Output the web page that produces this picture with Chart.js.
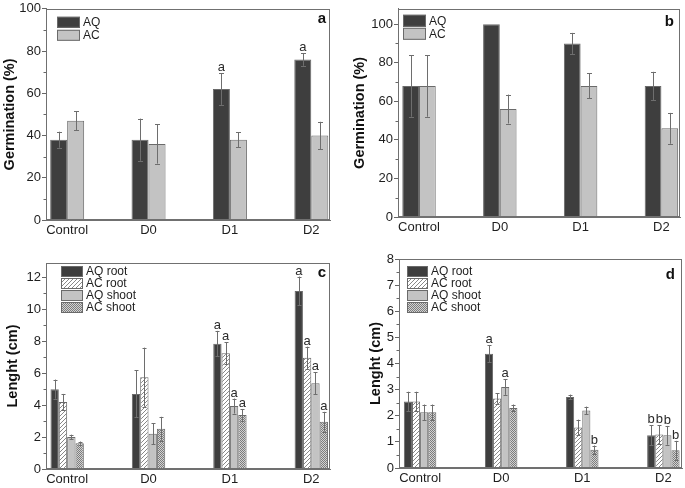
<!DOCTYPE html>
<html>
<head>
<meta charset="utf-8">
<script src="https://cdn.jsdelivr.net/npm/chart.js@4.4.1/dist/chart.umd.min.js"></script>
<style>
  html, body { margin: 0; padding: 0; background: #fff; }
  #fig { position: relative; width: 685px; height: 488px; overflow: hidden; }
  #fig canvas { position: absolute; }
</style>
</head>
<body>
<div id="fig">
  <canvas id="panelA" width="342" height="240" style="left:0px;top:0px"></canvas>
  <canvas id="panelB" width="343" height="240" style="left:342px;top:0px"></canvas>
  <canvas id="panelC" width="342" height="248" style="left:0px;top:240px"></canvas>
  <canvas id="panelD" width="343" height="248" style="left:342px;top:240px"></canvas>
</div>
<script>
const categories = ['Control', 'D0', 'D1', 'D2'];

// a - germination (%)
const germA_AQ = [38, 38, 62, 76];
const germA_AC = [47, 36, 38, 40];
const germA_AQ_err = [3.8, 10, 7.5, 3];
const germA_AC_err = [4.5, 9.3, 3.5, 6.5];
const germA_AQ_sig = ['', '', 'a', 'a'];
const germA_AC_sig = ['', '', '', ''];

// b - germination (%)
const germB_AQ = [68, 100, 90, 68];
const germB_AC = [68, 56, 68, 46];
const germB_AQ_err = [16, 0, 5.5, 7.3];
const germB_AC_err = [16, 7.5, 6.5, 8];

// c - length (cm)
const lenC_AQroot = [5.0, 4.7, 7.85, 11.15];
const lenC_ACroot = [4.2, 5.75, 7.25, 6.96];
const lenC_AQshoot = [2.0, 2.2, 3.94, 5.37];
const lenC_ACshoot = [1.62, 2.52, 3.38, 2.96];
const lenC_AQroot_err = [0.6, 1.47, 0.8, 0.9];
const lenC_ACroot_err = [0.5, 1.85, 0.7, 0.7];
const lenC_AQshoot_err = [0.15, 0.65, 0.47, 0.7];
const lenC_ACshoot_err = [0.1, 0.75, 0.38, 0.62];
const lenC_sig = ['', '', 'a', 'a'];

// d - length (cm)
const lenD_AQroot = [2.55, 4.37, 2.72, 1.25];
const lenD_ACroot = [2.55, 2.66, 1.55, 1.28];
const lenD_AQshoot = [2.13, 3.1, 2.2, 1.25];
const lenD_ACshoot = [2.13, 2.3, 0.7, 0.68];
const lenD_AQroot_err = [0.37, 0.32, 0.09, 0.38];
const lenD_ACroot_err = [0.37, 0.2, 0.3, 0.36];
const lenD_AQshoot_err = [0.3, 0.3, 0.15, 0.36];
const lenD_ACshoot_err = [0.3, 0.13, 0.16, 0.36];
const lenD_AQroot_sig = ['', 'a', '', 'b'];
const lenD_ACroot_sig = ['', '', '', 'b'];
const lenD_AQshoot_sig = ['', 'a', '', 'b'];
const lenD_ACshoot_sig = ['', '', 'b', 'b'];

const germTicks = [0, 20, 40, 60, 80, 100];
const lenC_ticks = [0, 2, 4, 6, 8, 10, 12];
const lenD_ticks = [0, 1, 2, 3, 4, 5, 6, 7, 8];

const FONT = "'Liberation Sans', Arial, sans-serif";
const DARK = '#3e3e3e';
const LIGHT = '#c3c3c3';
const EDGE = '#6a6a6a';

// fill patterns for the AC bars in c and d
function hatchPattern() {
  const c = document.createElement('canvas');
  c.width = 4; c.height = 4;
  const g = c.getContext('2d');
  g.fillStyle = '#fff'; g.fillRect(0, 0, 4, 4);
  g.strokeStyle = '#7a7a7a'; g.lineWidth = 0.9;
  g.beginPath();
  g.moveTo(-1, 1); g.lineTo(1, -1);
  g.moveTo(0, 4); g.lineTo(4, 0);
  g.moveTo(3, 5); g.lineTo(5, 3);
  g.stroke();
  return g.createPattern(c, 'repeat');
}
function checkPattern() {
  const c = document.createElement('canvas');
  c.width = 2; c.height = 2;
  const g = c.getContext('2d');
  g.fillStyle = '#d2d2d2'; g.fillRect(0, 0, 2, 2);
  g.fillStyle = '#7c7c7c'; g.fillRect(0, 0, 1, 1); g.fillRect(1, 1, 1, 1);
  return g.createPattern(c, 'repeat');
}
const HATCH = hatchPattern();
const CHECK = checkPattern();

// frame, minor ticks, error bars, letters, legend and panel tag
const panelDecor = {
  id: 'panelDecor',
  afterDraw(chart, args, o) {
    const { ctx, chartArea: ca } = chart;
    const y = chart.scales.y;
    ctx.save();
    ctx.strokeStyle = '#707070';
    ctx.lineWidth = 1;
    ctx.strokeRect(Math.round(ca.left) + 0.5, Math.round(ca.top) + 0.5,
      Math.round(ca.width) - 1, Math.round(ca.height) - 1);

    // minor ticks
    ctx.strokeStyle = '#666';
    ctx.beginPath();
    for (let v = o.minor; v < y.max; v += o.minor * 2) {
      const py = Math.round(y.getPixelForValue(v)) + 0.5;
      ctx.moveTo(ca.left, py); ctx.lineTo(ca.left - 2.5, py);
    }
    ctx.stroke();

    // error bars + significance letters
    chart.data.datasets.forEach((ds, i) => {
      const meta = chart.getDatasetMeta(i);
      meta.data.forEach((bar, j) => {
        const v = ds.data[j].y;
        const e = o.errors[i][j];
        const xc = Math.round(bar.x) + 0.5;
        let top = bar.y;
        if (e > 0) {
          top = y.getPixelForValue(v + e);
          const bot = y.getPixelForValue(v - e);
          ctx.strokeStyle = '#6e6e6e';
          ctx.lineWidth = 1;
          ctx.beginPath();
          ctx.moveTo(xc, top); ctx.lineTo(xc, bot);
          ctx.moveTo(xc - o.cap, Math.round(top) + 0.5); ctx.lineTo(xc + o.cap, Math.round(top) + 0.5);
          ctx.moveTo(xc - o.cap, Math.round(bot) + 0.5); ctx.lineTo(xc + o.cap, Math.round(bot) + 0.5);
          ctx.stroke();
        }
        const s = o.marks[i][j];
        if (s) {
          ctx.fillStyle = '#2a2a2a';
          ctx.font = '13px ' + FONT;
          ctx.textAlign = 'center';
          ctx.textBaseline = 'alphabetic';
          ctx.fillText(s, bar.x, top - 2);
        }
      });
    });

    // legend inside the plot
    const L = o.legend;
    chart.data.datasets.forEach((ds, i) => {
      const lx = ca.left + L.x;
      const ly = ca.top + L.y + i * L.row;
      ctx.fillStyle = ds.backgroundColor;
      ctx.fillRect(lx, ly, L.w, L.h);
      ctx.strokeStyle = EDGE;
      ctx.lineWidth = 1;
      ctx.strokeRect(lx + 0.5, ly + 0.5, L.w - 1, L.h - 1);
      ctx.fillStyle = '#1e1e1e';
      ctx.font = '12px ' + FONT;
      ctx.textAlign = 'left';
      ctx.textBaseline = 'middle';
      ctx.fillText(ds.label, lx + L.w + 3, ly + L.h / 2 + 0.5);
    });

    // panel tag
    ctx.fillStyle = '#111';
    ctx.font = 'bold 15px ' + FONT;
    ctx.textAlign = 'right';
    ctx.textBaseline = 'middle';
    ctx.fillText(o.tag, ca.right - o.tagDx, ca.top + o.tagDy);
    ctx.restore();
  }
};

function drawPanel(id, p) {
  new Chart(document.getElementById(id), {
    type: 'bar',
    data: {
      datasets: p.series.map(s => ({
        label: s.label,
        data: s.values.map((v, i) => ({ x: i, y: v })),
        backgroundColor: s.fill,
        borderColor: EDGE,
        borderWidth: 1,
        barPercentage: 1,
        categoryPercentage: p.group
      }))
    },
    options: {
      responsive: false,
      animation: false,
      layout: { padding: { top: p.padTop, right: p.padRight, left: 0, bottom: 0 } },
      plugins: {
        legend: { display: false },
        tooltip: { enabled: false },
        panelDecor: {
          errors: p.series.map(s => s.err),
          marks: p.series.map(s => s.sig || ['', '', '', '']),
          minor: p.minor, cap: p.cap, legend: p.legend,
          tag: p.tag, tagDx: p.tagDx, tagDy: p.tagDy
        }
      },
      scales: {
        x: {
          type: 'linear',
          offset: false,
          min: -0.26, max: 3.23,
          afterFit(s) { s.height = p.xH; },
          afterBuildTicks(s) { s.ticks = categories.map((c, i) => ({ value: i })); },
          ticks: {
            callback: v => categories[v],
            font: { family: FONT, size: 13 }, color: '#1e1e1e', padding: 3,
            maxRotation: 0, autoSkip: false
          },
          grid: { display: false, drawTicks: false, offset: false },
          border: { color: '#707070' }
        },
        y: {
          min: 0, max: p.yMax,
          afterFit(s) { s.width = p.yW; },
          afterBuildTicks(s) { s.ticks = p.ticks.map(v => ({ value: v })); },
          ticks: { font: { family: FONT, size: 13 }, color: '#1e1e1e', padding: 1 },
          grid: { drawOnChartArea: false, tickLength: 4, tickColor: '#666' },
          border: { color: '#707070' },
          title: {
            display: true, text: p.yTitle, color: '#111',
            font: { family: FONT, size: 14.5, weight: 'bold' },
            padding: { top: p.titlePad, bottom: 0 }
          }
        }
      }
    },
    plugins: [panelDecor]
  });
}

drawPanel('panelA', {
  series: [
    { label: 'AQ', values: germA_AQ, err: germA_AQ_err, sig: germA_AQ_sig, fill: DARK },
    { label: 'AC', values: germA_AC, err: germA_AC_err, sig: germA_AC_sig, fill: LIGHT }
  ],
  yMax: 100, ticks: germTicks, minor: 10, yTitle: 'Germination (%)',
  yW: 46, xH: 20, padTop: 7, padRight: 12, titlePad: 1, group: 0.418, cap: 2.5,
  legend: { x: 11, y: 8, w: 23, h: 11, row: 13 }, tag: 'a', tagDx: 4, tagDy: 10
});

drawPanel('panelB', {
  series: [
    { label: 'AQ', values: germB_AQ, err: germB_AQ_err, fill: DARK },
    { label: 'AC', values: germB_AC, err: germB_AC_err, fill: LIGHT }
  ],
  yMax: 108, ticks: germTicks, minor: 10, yTitle: 'Germination (%)',
  yW: 56, xH: 23, padTop: 5, padRight: 5, titlePad: 9, group: 0.414, cap: 2.5,
  legend: { x: 5, y: 6, w: 23, h: 12, row: 13 }, tag: 'b', tagDx: 6, tagDy: 13
});

drawPanel('panelC', {
  series: [
    { label: 'AQ root', values: lenC_AQroot, err: lenC_AQroot_err, sig: lenC_sig, fill: DARK },
    { label: 'AC root', values: lenC_ACroot, err: lenC_ACroot_err, sig: lenC_sig, fill: HATCH },
    { label: 'AQ shoot', values: lenC_AQshoot, err: lenC_AQshoot_err, sig: lenC_sig, fill: LIGHT },
    { label: 'AC shoot', values: lenC_ACshoot, err: lenC_ACshoot_err, sig: lenC_sig, fill: CHECK }
  ],
  yMax: 12.9, ticks: lenC_ticks, minor: 1, yTitle: 'Lenght (cm)',
  yW: 46, xH: 19, padTop: 23, padRight: 12, titlePad: 4, group: 0.41, cap: 2,
  legend: { x: 15, y: 3, w: 22, h: 11, row: 12 }, tag: 'c', tagDx: 4, tagDy: 10
});

drawPanel('panelD', {
  series: [
    { label: 'AQ root', values: lenD_AQroot, err: lenD_AQroot_err, sig: lenD_AQroot_sig, fill: DARK },
    { label: 'AC root', values: lenD_ACroot, err: lenD_ACroot_err, sig: lenD_ACroot_sig, fill: HATCH },
    { label: 'AQ shoot', values: lenD_AQshoot, err: lenD_AQshoot_err, sig: lenD_AQshoot_sig, fill: LIGHT },
    { label: 'AC shoot', values: lenD_ACshoot, err: lenD_ACshoot_err, sig: lenD_ACshoot_sig, fill: CHECK }
  ],
  yMax: 8, ticks: lenD_ticks, minor: 0.5, yTitle: 'Lenght (cm)',
  yW: 57, xH: 20, padTop: 19, padRight: 3, titlePad: 25, group: 0.40, cap: 2,
  legend: { x: 8, y: 7, w: 21, h: 11, row: 12 }, tag: 'd', tagDx: 7, tagDy: 16
});
</script>
</body>
</html>
